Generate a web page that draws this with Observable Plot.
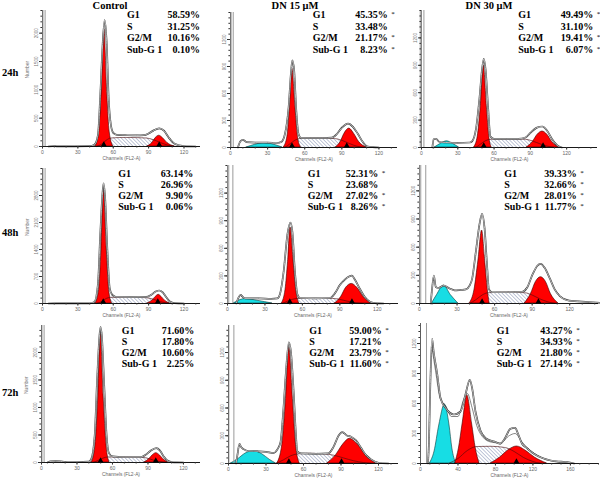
<!DOCTYPE html>
<html><head><meta charset="utf-8">
<script src="https://cdn.jsdelivr.net/npm/d3@7"></script>
<script src="https://cdn.jsdelivr.net/npm/@observablehq/plot@0.6"></script>
<style>
body{margin:0;background:#fff;}
#fig{position:relative;width:600px;height:480px;overflow:hidden;background:#fff;}
.panel{position:absolute;}
#overlay{position:absolute;left:0;top:0;}
</style></head>
<body><div id="fig"></div>
<script>
// ---------- labels ----------
const columnTitles = ["Control", "DN 15 μM", "DN 30 μM"];
const rowTitles = ["24h", "48h", "72h"];
const phaseNames = ["G1", "S", "G2/M", "Sub-G 1"];
// panels in row-major order: 24h (Control, DN15, DN30), 48h (...), 72h (...)
const g1Pct  = ["58.59%", "45.35%", "49.49%", "63.14%", "52.31%", "39.33%", "71.60%", "59.00%", "43.27%"];
const sPct   = ["31.25%", "33.48%", "31.10%", "26.96%", "23.68%", "32.66%", "17.80%", "17.21%", "34.93%"];
const g2mPct = ["10.16%", "21.17%", "19.41%", "9.90%", "27.02%", "28.01%", "10.60%", "23.79%", "21.80%"];
const subPct = ["0.10%", "8.23%", "6.07%", "0.06%", "8.26%", "11.77%", "2.25%", "11.60%", "27.14%"];
const sigG1  = [0, 1, 1, 0, 1, 1, 0, 1, 1];
const sigS   = [0, 0, 0, 0, 0, 1, 0, 0, 1];
const sigG2M = [0, 1, 1, 0, 1, 1, 0, 1, 1];
const sigSub = [0, 1, 1, 0, 1, 1, 0, 1, 1];
const xLabel = "Channels (FL2-A)";
const yLabel = "Number";

// ---------- tick values ----------
const xTicksStd = [0, 30, 60, 90, 120];
const xTicksWide = [0, 40, 80, 120, 160];
const yTicksCtl = [0, 500, 1000, 1500, 2000];
const yTicksCtl48 = [0, 700, 1400, 2100, 2800];
const yTicksDN = [0, 300, 600, 900, 1200];

// ---------- histogram data [channel, count] ----------
// 24h Control
const ctl24Env = [[5,0],[9,8],[12,3],[20,2],[40,5],[44,30],[47,200],[49,900],[51,1800],[52.7,2230],[54.5,1800],[56,900],[58,380],[60,240],[63,205],[70,200],[80,195],[86,200],[90,230],[94,280],[99,320],[103,280],[107,160],[112,50],[120,8],[130,0]];
const ctl24G1 = [[45,0],[48,250],[50,900],[52.5,2065],[55,900],[57,250],[60,0]];
const ctl24G2 = [[89,0],[93,60],[96,150],[99,190],[102,150],[106,60],[112,0]];
const ctl24S = [[46,0],[50,40],[54,110],[58,150],[70,160],[88,150],[94,120],[100,70],[106,25],[114,0]];
const ctl24Peaks = [52, 99];
// 24h DN 15
const dn15h24Env = [[6,0],[8,70],[10,85],[13,60],[20,55],[30,55],[38,50],[41,60],[44,150],[47,450],[49,850],[50,967],[51.5,850],[53,450],[55,150],[57,105],[65,105],[75,105],[82,110],[86,150],[90,220],[95,265],[99,230],[103,150],[107,60],[111,10],[120,0]];
const dn15h24G1 = [[43,0],[46,120],[48,440],[50,875],[52.5,440],[54.5,120],[57,0]];
const dn15h24G2 = [[85,0],[89,60],[92,150],[96,210],[100,150],[104,60],[110,0]];
const dn15h24Sub = [[13,0],[20,30],[27,50],[34,35],[42,0]];
const dn15h24S = [[44,0],[48,40],[52,80],[56,100],[70,105],[84,100],[90,80],[96,45],[102,15],[108,0]];
const dn15h24Peaks = [49.7, 94];
// 24h DN 30
const dn30h24Env = [[9,0],[10,90],[12,95],[15,60],[20,55],[30,50],[40,55],[42,70],[45,200],[48,550],[50,850],[51.5,970],[53,850],[55,450],[57,120],[60,95],[70,95],[80,95],[86,110],[90,160],[95,215],[100,230],[104,180],[108,90],[112,25],[116,0]];
const dn30h24G1 = [[43.5,0],[46.5,120],[49,450],[51.5,895],[54,450],[56,120],[58,0]];
const dn30h24G2 = [[87,0],[92,60],[96,140],[100,175],[104,140],[108,60],[114,0]];
const dn30h24Sub = [[11,0],[16,40],[21,68],[26,40],[31,0]];
const dn30h24S = [[45,0],[49,40],[53,75],[57,90],[70,95],[86,90],[92,70],[98,40],[104,15],[110,0]];
const dn30h24Peaks = [51.5, 100.5];
// 48h Control
const ctl48Env = [[5,0],[10,5],[20,3],[40,5],[44,40],[47,500],[49,1800],[51,2900],[51.8,3117],[53,2800],[55,1400],[57,400],[59,230],[62,175],[75,165],[88,170],[92,220],[96,310],[99,337],[102,290],[105,160],[108,50],[112,10],[120,0]];
const ctl48G1 = [[45,0],[48,350],[50,1400],[52,2970],[54.5,1400],[56.5,350],[59,0]];
const ctl48G2 = [[89,0],[93,70],[96,170],[98.5,225],[101,170],[104,70],[108,0]];
const ctl48S = [[46,0],[50,50],[54,130],[58,160],[75,160],[88,150],[94,110],[100,50],[106,10],[110,0]];
const ctl48Peaks = [51.5, 97.8];
// 48h DN 15
const dn15h48Env = [[7,0],[9,70],[10.5,94],[12,75],[14,55],[25,55],[35,50],[40,55],[42,100],[45,350],[48,750],[50.4,880],[52,780],[54,350],[56,100],[58,60],[70,55],[82,60],[86,110],[90,200],[94,260],[97,290],[99.7,303],[102,260],[106,160],[110,70],[114,20],[118,5],[125,0]];
const dn15h48G1 = [[43.5,0],[46.5,150],[48.5,450],[50.5,825],[53,450],[55,150],[57.5,0]];
const dn15h48G2 = [[86,0],[91,70],[95,170],[99.5,213],[104,170],[109,70],[116,0]];
const dn15h48Sub = [[5,0],[9,30],[14,48],[22,35],[30,15],[36,0]];
const dn15h48S = [[44,0],[48,25],[52,45],[56,55],[70,55],[84,55],[90,45],[96,25],[102,10],[108,0]];
const dn15h48Peaks = [49.9, 99.7];
// 48h DN 30
const dn30h48Env = [[9,0],[10,150],[11.5,298],[13,177],[15,165],[19.5,191],[24,160],[28,140],[33,145],[37,150],[40,190],[42,260],[45,550],[48,850],[50,954],[52,800],[54,400],[55.5,150],[58,120],[70,120],[82,125],[86,170],[90,300],[94,400],[96.8,422],[100,380],[104,270],[108,150],[112,80],[119.5,30],[135,15],[145,5]];
const dn30h48G1 = [[40,0],[44,150],[47,450],[50,777],[52.5,450],[54.5,150],[56,0]];
const dn30h48G2 = [[84,0],[89,100],[93,230],[97,280],[101,230],[105,100],[111,0]];
const dn30h48Sub = [[10,0],[14,90],[19.5,191],[25,90],[31,0]];
const dn30h48S = [[40,0],[45,40],[50,90],[55,115],[70,120],[84,115],[90,90],[96,50],[102,20],[108,0]];
const dn30h48Peaks = [50, 95];
// 72h Control
const ctl72Env = [[5,0],[8,20],[12,24],[16,20],[20,10],[30,8],[40,15],[42,60],[45,500],[47,1500],[49,2300],[49.9,2460],[51,2300],[53,1400],[55,500],[57,170],[60,110],[70,100],[84,100],[88,140],[92,210],[97,260],[100,220],[103,120],[106,40],[110,8],[120,0]];
const ctl72G1 = [[42.5,0],[45.5,300],[48,1200],[50,2370],[52.5,1200],[55,300],[57.5,0]];
const ctl72G2 = [[87,0],[91,60],[94,130],[97,170],[100,130],[103,60],[107,0]];
const ctl72S = [[44,0],[48,40],[52,80],[56,100],[70,100],[85,95],[90,75],[95,40],[100,15],[106,0]];
const ctl72Peaks = [49.9, 96.6];
// 72h DN 15
const dn15h72Env = [[6,0],[7,80],[8.8,213],[10,180],[12,156],[16,135],[20,135],[24,132],[30,125],[36,113],[39,150],[41.6,230],[44,600],[46,1000],[48.3,1311],[50,1200],[52,800],[54,300],[55,130],[58,110],[70,105],[80,110],[84,180],[88,300],[91,340],[95,300],[98,290],[102,250],[106,170],[110,90],[114,45],[120,8],[128,0]];
const dn15h72G1 = [[39,0],[43,200],[46,700],[48.5,1257],[51.5,700],[54,200],[57,0]];
const dn15h72G2 = [[79,0],[86,90],[92,210],[97,267],[103,210],[110,90],[118,0]];
const dn15h72Sub = [[2,0],[8,50],[14,110],[20,132],[27,100],[33,40],[38,0]];
const dn15h72S = [[38,0],[44,40],[50,85],[56,105],[66,110],[76,105],[84,90],[92,60],[100,30],[108,10],[114,0]];
const dn15h72Peaks = [48.3, 90.4];
// 72h DN 30
const dn30h72Env = [[8,0],[9,200],[10.5,800],[12.4,1247],[14,1120],[17.8,900],[21.3,657],[26.7,557],[31,510],[35.6,490],[42.7,520],[48,690],[52.6,837],[55,760],[58.7,520],[64,330],[70,250],[74.7,230],[80,215],[85,197],[90,250],[96,347],[101,357],[104,300],[108.4,197],[114,150],[121,97],[130,55],[139,30],[150,18],[156.4,13],[164,0]];
const dn30h72Fit = [[12.4,1150],[16,930],[21.3,640],[26.7,580],[33,470],[40,470],[46,640],[50,700],[55,560],[60,380],[66,270],[75,215],[85,205],[95,280],[101,300],[108,220],[115,150],[125,80],[140,25],[160,0]];
const dn30h72G1 = [[37,0],[41,150],[45,400],[50,680],[55,400],[59,150],[63,0]];
const dn30h72G2 = [[75,0],[85,60],[95,140],[103,170],[112,130],[122,60],[135,0]];
const dn30h72Sub = [[10,0],[15,120],[20,380],[26,590],[31,380],[34,150],[38,0]];
const dn30h72S = [[30,0],[40,50],[50,130],[60,170],[75,172],[90,160],[100,120],[110,60],[120,20],[128,0]];
const dn30h72Peaks = [102.4];

// ---------- layout (page pixels of each plot frame) ----------
const panels = [
  {left:42, right:200, top:10, bottom:146, xd:[0,134], yd:[0,2400], xt:xTicksStd, yt:yTicksCtl, env:ctl24Env, g1:ctl24G1, g2:ctl24G2, s:ctl24S, sub:null, peaks:ctl24Peaks, bars:[0.4,2.2], ctl:true},
  {left:230, right:397, top:12, bottom:147, xd:[0,135], yd:[0,1500], xt:xTicksStd, yt:yTicksDN, env:dn15h24Env, g1:dn15h24G1, g2:dn15h24G2, s:dn15h24S, sub:dn15h24Sub, peaks:dn15h24Peaks, bars:[0.5,2.2]},
  {left:421, right:597, top:10, bottom:147, xd:[0,145.5], yd:[0,1500], xt:xTicksStd, yt:yTicksDN, env:dn30h24Env, g1:dn30h24G1, g2:dn30h24G2, s:dn30h24S, sub:dn30h24Sub, peaks:dn30h24Peaks, bars:[-1,2]},
  {left:42, right:200, top:168, bottom:303, xd:[0,134], yd:[0,3500], xt:xTicksStd, yt:yTicksCtl48, env:ctl48Env, g1:ctl48G1, g2:ctl48G2, s:ctl48S, sub:null, peaks:ctl48Peaks, bars:[0.4,2.2], ctl:true},
  {left:227, right:398, top:165, bottom:303, xd:[0,137], yd:[0,1500], xt:xTicksStd, yt:yTicksDN, env:dn15h48Env, g1:dn15h48G1, g2:dn15h48G2, s:dn15h48S, sub:dn15h48Sub, peaks:dn15h48Peaks, bars:[1,4.3]},
  {left:419, right:598, top:165, bottom:303, xd:[0,143], yd:[0,1470], xt:xTicksStd, yt:yTicksDN, env:dn30h48Env, g1:dn30h48G1, g2:dn30h48G2, s:dn30h48S, sub:dn30h48Sub, peaks:dn30h48Peaks, bars:[1,5]},
  {left:41, right:200, top:325, bottom:462, xd:[0,134.4], yd:[0,2490], xt:xTicksStd, yt:yTicksCtl, env:ctl72Env, g1:ctl72G1, g2:ctl72G2, s:ctl72S, sub:null, peaks:ctl72Peaks, bars:[0.4,2.2], ctl:true},
  {left:228, right:398, top:325, bottom:463, xd:[0,136], yd:[0,1492], xt:xTicksStd, yt:yTicksDN, env:dn15h72Env, g1:dn15h72G1, g2:dn15h72G2, s:dn15h72S, sub:dn15h72Sub, peaks:dn15h72Peaks, bars:[0.3,4.3]},
  {left:420, right:598, top:323, bottom:463, xd:[0,190], yd:[0,1400], xt:xTicksWide, yt:yTicksDN, env:dn30h72Env, fit:dn30h72Fit, g1:dn30h72G1, g2:dn30h72G2, s:dn30h72S, sub:dn30h72Sub, peaks:dn30h72Peaks, bars:[0,6.4]}
];

const fig = document.getElementById("fig");

// shared hatch pattern
const NS = "http://www.w3.org/2000/svg";
const defsSvg = document.createElementNS(NS, "svg");
defsSvg.setAttribute("width", 0); defsSvg.setAttribute("height", 0);
defsSvg.style.position = "absolute";
defsSvg.innerHTML = `<defs><pattern id="hatch" patternUnits="userSpaceOnUse" width="2.6" height="2.6" patternTransform="rotate(-45)">
<rect width="2.6" height="2.6" fill="#fff"/><line x1="0" y1="0" x2="0" y2="2.6" stroke="#4a5c90" stroke-width="0.7"/></pattern></defs>`;
fig.appendChild(defsSvg);

const X = d => d[0], Y = d => d[1];
const ML = 22, MR = 2, MT = 2, MB = 16;

panels.forEach(p => {
  const w = p.right - p.left, h = p.bottom - p.top;
  const yStep = (p.yt[1] - p.yt[0]) / 5;
  const minorY = d3.range(0, p.yd[1] + 1e-6, yStep);
  const minorX = d3.range(0, p.xd[1] + 1e-6, 10);
  const marks = [
    Plot.areaY(p.s, {x: X, y: Y, fill: "url(#hatch)", curve: "monotone-x"}),
    p.sub ? Plot.areaY(p.sub, {x: X, y: Y, fill: "#17dde4", stroke: "#0b3b3b", strokeWidth: 0.6, curve: "monotone-x"}) : null,
    Plot.areaY(p.g1, {x: X, y: Y, fill: "#ff0000", stroke: "#3a0000", strokeWidth: 0.6, curve: "monotone-x"}),
    Plot.areaY(p.g2, {x: X, y: Y, fill: "#ff0000", stroke: "#3a0000", strokeWidth: 0.6, curve: "monotone-x"}),
    Plot.line(p.s, {x: X, y: Y, stroke: "#4a0a0a", strokeWidth: 0.6, curve: "monotone-x"}),
    p.fit ? Plot.line(p.fit, {x: X, y: Y, stroke: "#333", strokeWidth: 0.6, curve: "monotone-x"}) : null,
    Plot.line(p.env, {x: X, y: Y, stroke: "#333", strokeWidth: 1.7, curve: "monotone-x"}),
    Plot.line(p.env, {x: X, y: Y, stroke: "#f2f2f2", strokeWidth: 0.7, curve: "monotone-x"}),
    Plot.ruleX(p.bars, {stroke: "#9a9a9a", strokeWidth: 1}),
    Plot.ruleX([0], {stroke: "#333", strokeWidth: 0.6}),
    Plot.ruleY([0], {stroke: "#000", strokeWidth: 0.9}),
    Plot.axisY({ticks: p.yt, tickSize: 3, tickFormat: () => "", label: null, stroke: "#333"}),
    Plot.axisY({ticks: minorY, tickSize: 1.6, tickFormat: () => "", label: null, stroke: "#333"}),
    Plot.axisX({ticks: p.xt, tickSize: 2.6, tickFormat: () => "", label: null, stroke: "#333"}),
    Plot.axisX({ticks: minorX, tickSize: 1.5, tickFormat: () => "", label: null, stroke: "#333"}),
    Plot.text(p.yt, {x: 0, y: d => d, text: d => String(d), rotate: -90, dx: -6, fontSize: 4.5, fill: "#777"}),
    Plot.text(p.xt, {x: d => d, y: 0, dy: 6.3, text: d => String(d), fontSize: 5, fill: "#666"}),
    Plot.text([xLabel], {frameAnchor: "bottom", dy: 13.2, text: d => d, fontSize: 4.8, fill: "#666"}),
    p.ctl ? Plot.text([yLabel], {frameAnchor: "left", dx: -15, rotate: -90, text: d => d, fontSize: 5, fill: "#777"}) : null,
    Plot.dot(p.peaks, {x: d => d, y: 0, symbol: "triangle", r: 2.2, fill: "#000", stroke: "none", dy: -1.8})
  ].filter(Boolean);
  const chart = Plot.plot({
    width: w + ML + MR, height: h + MT + MB,
    marginLeft: ML, marginRight: MR, marginTop: MT, marginBottom: MB,
    x: {domain: p.xd}, y: {domain: p.yd},
    style: {background: "none", overflow: "visible", fontFamily: "'Liberation Sans', Arial, sans-serif"},
    marks
  });
  const div = document.createElement("div");
  div.className = "panel";
  div.style.left = (p.left - ML) + "px";
  div.style.top = (p.top - MT) + "px";
  div.appendChild(chart);
  fig.appendChild(div);
});

// ---------- text overlay ----------
const ov = d3.select(fig).append("svg").attr("id", "overlay").attr("width", 600).attr("height", 480)
  .style("font-family", "'Liberation Serif', 'Times New Roman', serif").style("font-weight", "bold");
const titleX = [110, 295, 489];
columnTitles.forEach((t, i) => ov.append("text").attr("x", titleX[i]).attr("y", 8.5).attr("text-anchor", "middle").attr("font-size", 10.5).text(t));
const rowY = [76, 236, 396];
rowTitles.forEach((t, i) => ov.append("text").attr("x", 2).attr("y", rowY[i]).attr("font-size", 10.5).text(t));

const statBase = [[18.3, 29.8, 41.3, 52.7], [176.7, 187.9, 199.1, 210.3], [334, 345, 356, 366.8]];
const statCols = [
  {lx:127, vx:200}, {lx:312.7, vx:387.7}, {lx:518.3, vx:593.3},
  {lx:118.3, vx:193.3}, {lx:307.7, vx:378.3}, {lx:504.3, vx:576.7},
  {lx:121.7, vx:194.3}, {lx:309.3, vx:381.7}, {lx:496.7, vx:572.7}
];
statCols.forEach((c, i) => {
  const r = Math.floor(i / 3);
  const vals = [g1Pct[i], sPct[i], g2mPct[i], subPct[i]];
  const sig = [sigG1[i], sigS[i], sigG2M[i], sigSub[i]];
  phaseNames.forEach((nm, k) => {
    const y = statBase[r][k];
    ov.append("text").attr("x", c.lx).attr("y", y).attr("font-size", 10).text(nm);
    ov.append("text").attr("x", c.vx).attr("y", y).attr("font-size", 10).attr("text-anchor", "end").text(vals[k]);
    if (sig[k]) ov.append("text").attr("x", c.vx + 3.5).attr("y", y - 2).attr("font-size", 7).attr("font-weight", "normal").text("*");
  });
});
</script></body></html>
